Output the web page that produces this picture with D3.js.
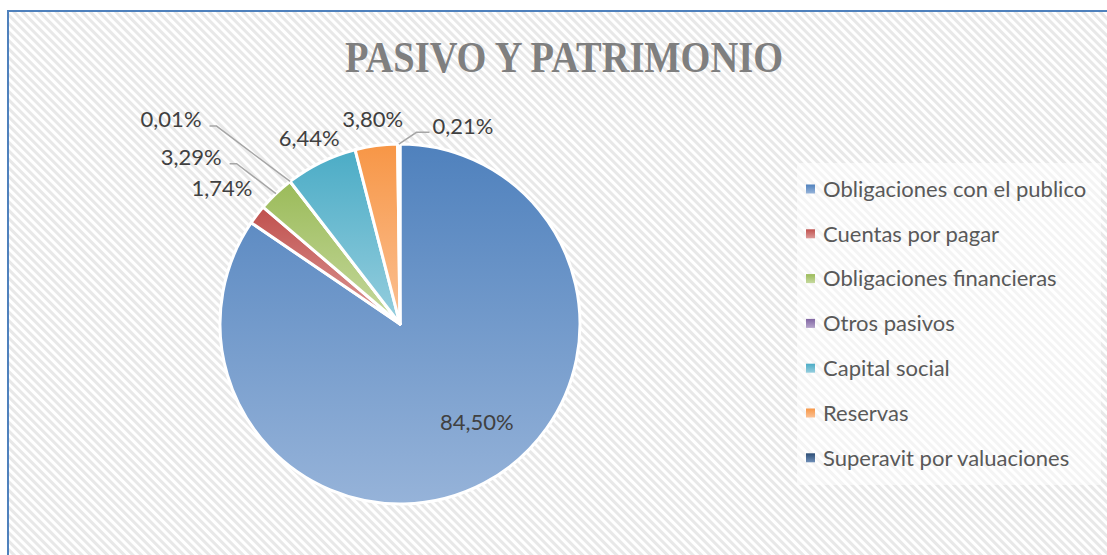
<!DOCTYPE html>
<html>
<head>
<meta charset="utf-8">
<script src="https://cdn.jsdelivr.net/npm/d3@7"></script>
<style>
  html, body { margin: 0; padding: 0; background: #fff; }
  svg { display: block; }
</style>
</head>
<body>
<div id="chart"></div>
<script>
// chart size
const FRAME_WIDTH = 1107;
const FRAME_HEIGHT = 555;

// data
const categories = [
  "Obligaciones con el publico",
  "Cuentas por pagar",
  "Obligaciones financieras",
  "Otros pasivos",
  "Capital social",
  "Reservas",
  "Superavit por valuaciones"
];
const shares = [84.50, 1.74, 3.29, 0.01, 6.44, 3.80, 0.21];
const darkColors = ["#4f81bd", "#c0504d", "#9bbb59", "#8064a2", "#4bacc6", "#f79646", "#2c4d75"];
const lightColors = ["#96b3d9", "#dc9a98", "#c6d99f", "#b5a5cb", "#96cede", "#fbc194", "#6f8fb8"];

// label placement: angle shift (deg) from slice middle, distance as fraction of radius, leader or not
const labelShift = [-10, 0, -7.8, -10.6, 0, 0, 18];
const labelDist = [0.695, 1.245, 1.485, 1.705, 1.15, 1.145, 1.155];
const hasLeader = [false, false, true, true, false, false, true];

const CX = 400, CY = 324, R = 180;

const svg = d3.select("#chart")
  .append("svg")
  .attr("width", FRAME_WIDTH)
  .attr("height", FRAME_HEIGHT);

const defs = svg.append("defs");

// diagonal stripes for the background
const pat = defs.append("pattern")
  .attr("id", "stripes")
  .attr("patternUnits", "userSpaceOnUse")
  .attr("width", 6)
  .attr("height", 6)
  .attr("patternTransform", "rotate(-45)");
pat.append("rect").attr("width", 6).attr("height", 6).attr("fill", "#ffffff");
pat.append("rect").attr("width", 3).attr("height", 6).attr("fill", "#e8e8e8");

// one vertical gradient per category
categories.forEach((c, i) => {
  const g = defs.append("linearGradient")
    .attr("id", "grad" + i)
    .attr("x1", 0).attr("y1", 0).attr("x2", 0).attr("y2", 1);
  g.append("stop").attr("offset", "0%").attr("stop-color", darkColors[i]);
  g.append("stop").attr("offset", "100%").attr("stop-color", lightColors[i]);
});

// background + border
svg.append("rect")
  .attr("x", 8).attr("y", 11)
  .attr("width", FRAME_WIDTH + 20).attr("height", FRAME_HEIGHT + 20)
  .attr("fill", "url(#stripes)")
  .attr("stroke", "#4f81bd")
  .attr("stroke-width", 2);

// title
svg.append("text")
  .attr("x", 564)
  .attr("y", 72)
  .attr("text-anchor", "middle")
  .attr("font-family", "'Liberation Serif', 'DejaVu Serif', serif")
  .attr("font-weight", "bold")
  .attr("font-size", 44)
  .attr("fill", "#7f7f7f")
  .attr("textLength", 438)
  .attr("lengthAdjust", "spacingAndGlyphs")
  .text("PASIVO Y PATRIMONIO");

// pie
const pie = d3.pie().sort(null).value(d => d)(shares);
const arc = d3.arc().innerRadius(0).outerRadius(R);

const G = svg.append("g").attr("transform", `translate(${CX},${CY})`);

G.selectAll("path.slice")
  .data(pie)
  .enter()
  .append("path")
  .attr("class", "slice")
  .attr("d", arc)
  .attr("fill", (d, i) => `url(#grad${i})`)
  .attr("stroke", "#ffffff")
  .attr("stroke-width", 3)
  .attr("stroke-linejoin", "round");

const fmt = v => d3.format(".2f")(v).replace(".", ",") + "%";
const polar = (a, r) => [Math.sin(a) * r, -Math.cos(a) * r];

pie.forEach((d, i) => {
  const mid = (d.startAngle + d.endAngle) / 2;
  const a = mid + labelShift[i] * Math.PI / 180;
  const [tx, ty] = polar(a, labelDist[i] * R);

  const t = G.append("text")
    .attr("x", tx)
    .attr("y", ty)
    .attr("dy", "0.35em")
    .attr("text-anchor", "middle")
    .attr("font-family", "Lato, 'Open Sans', sans-serif")
    .attr("font-size", 22)
    .attr("fill", "#404040")
    .text(fmt(shares[i]));

  if (hasLeader[i]) {
    const w = t.node().getComputedTextLength();
    const onRight = tx > 0;
    const ly = ty + 6.5;
    const x0 = onRight ? tx - w / 2 - 3 : tx + w / 2 + 8;
    const x1 = onRight ? x0 - 13 : x0 + 7;
    const [ex, ey] = polar(mid, R);
    G.insert("path", "text")
      .attr("d", `M${x0},${ly}L${x1},${ly}L${ex},${ey}`)
      .attr("fill", "none")
      .attr("stroke", "#a6a6a6")
      .attr("stroke-width", 1.5);
  }
});

// legend
svg.append("rect")
  .attr("x", 797).attr("y", 163)
  .attr("width", 304).attr("height", 322)
  .attr("fill", "#ffffff")
  .attr("fill-opacity", 0.5);

const legend = svg.append("g").attr("transform", "translate(806,189)");
const rows = legend.selectAll("g.row")
  .data(categories)
  .enter()
  .append("g")
  .attr("class", "row")
  .attr("transform", (d, i) => `translate(0,${i * 44.8})`);

rows.append("rect")
  .attr("x", 0).attr("y", -4.5)
  .attr("width", 9).attr("height", 9)
  .attr("fill", (d, i) => `url(#grad${i})`);

rows.append("text")
  .attr("x", 17)
  .attr("dy", "0.35em")
  .attr("font-family", "Lato, 'Open Sans', sans-serif")
  .attr("font-size", 22)
  .attr("fill", "#595959")
  .text(d => d);
</script>
</body>
</html>
